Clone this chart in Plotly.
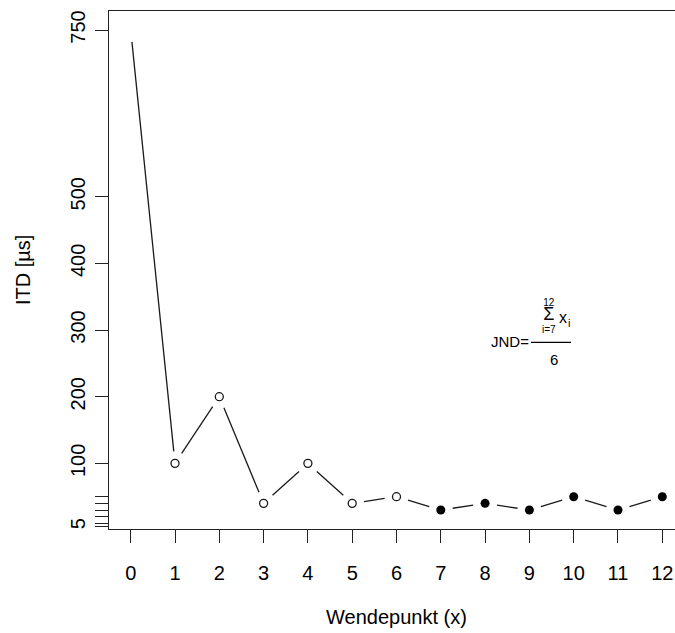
import math
import plotly.graph_objects as go

# ---- data ----
wendepunkt = list(range(13))
itd = [750, 100, 200, 40, 100, 40, 50, 30, 40, 30, 50, 30, 50]
open_points = [1, 2, 3, 4, 5, 6]
filled_points = [7, 8, 9, 10, 11, 12]
x_tickvals = list(range(13))
y_tickvals = [5, 10, 20, 30, 40, 50, 100, 200, 300, 400, 500, 750]
y_ticktext = ["5", "", "", "", "", "", "100", "200", "300", "400", "500", "750"]

# ---- layout geometry ----
W, H = 675, 633
ML, MR, MT, MB = 109, 0, 11, 104
PW, PH = W - ML - MR, H - MT - MB
xr = [-0.49, 12.287]
yr = [1.55, 778.5]
FONT = "Liberation Sans, Arial, sans-serif"

sx = PW / (xr[1] - xr[0])
sy = PH / (yr[1] - yr[0])

# line segments with gaps around points (R type="b")
gap = 12.0
lx, ly = [], []
for i in range(len(wendepunkt) - 1):
    x0, y0 = wendepunkt[i], itd[i]
    x1, y1 = wendepunkt[i + 1], itd[i + 1]
    L = math.hypot((x1 - x0) * sx, (y1 - y0) * sy)
    if L <= 2 * gap:
        continue
    t = gap / L
    lx += [x0 + (x1 - x0) * t, x1 - (x1 - x0) * t, None]
    ly += [y0 + (y1 - y0) * t, y1 - (y1 - y0) * t, None]

fig = go.Figure()
fig.add_trace(go.Scatter(x=lx, y=ly, mode="lines",
                         line=dict(color="#1a1a1a", width=1.3),
                         hoverinfo="skip", showlegend=False))
fig.add_trace(go.Scatter(x=[wendepunkt[i] for i in open_points],
                         y=[itd[i] for i in open_points], mode="markers",
                         marker=dict(symbol="circle-open", size=8,
                                     color="#1a1a1a", line=dict(width=1.3)),
                         showlegend=False))
fig.add_trace(go.Scatter(x=[wendepunkt[i] for i in filled_points],
                         y=[itd[i] for i in filled_points], mode="markers",
                         marker=dict(symbol="circle", size=9, color="black"),
                         showlegend=False))


def px(x):
    return (x - ML) / PW


def py(y):
    return (MT + PH - y) / PH


anns = []


def ann(text, x, y, size, angle=0):
    anns.append(dict(text=text, x=px(x), y=py(y), xref="paper", yref="paper",
                     showarrow=False, xanchor="center", yanchor="middle",
                     textangle=angle, font=dict(family=FONT, size=size, color="black")))


# axis titles
ann("Wendepunkt (x)", 396.5, 617, 20)
ann("ITD [µs]", 23, 270, 20, angle=-90)
# formula
ann("JND=", 509.5, 341, 15)
ann("6", 554, 359.7, 15)
ann('<span style="font-size:10px">12</span><br>'
    '<span style="font-size:18px">Σ</span><br>'
    '<span style="font-size:10px">i=7</span>', 548.8, 315.5, 10.4)
ann("x", 563, 317.3, 16)
ann("i", 569, 322.5, 11)

fig.update_layout(
    width=W, height=H,
    margin=dict(l=ML, r=MR, t=MT, b=MB, pad=0),
    paper_bgcolor="white", plot_bgcolor="white",
    font=dict(family=FONT, size=20, color="black"),
    annotations=anns,
    shapes=[dict(type="line", xref="paper", yref="paper",
                 x0=px(531), x1=px(571), y0=py(342.3), y1=py(342.3),
                 line=dict(color="black", width=1.2))],
    xaxis=dict(range=xr, tickvals=x_tickvals, showgrid=False, zeroline=False,
               showline=True, linecolor="#222", linewidth=1.2, mirror=True,
               ticks="outside", ticklen=13, tickwidth=1.2, tickcolor="#222",
               tickfont=dict(size=20), ticklabelstandoff=13),
    yaxis=dict(range=yr, tickvals=y_tickvals, ticktext=y_ticktext,
               showgrid=False, zeroline=False, showline=True, linecolor="#222",
               linewidth=1.2, ticks="outside", ticklen=13, tickwidth=1.2,
               tickcolor="#222", tickangle=-90, tickfont=dict(size=20),
               ticklabelstandoff=2),
)

fig.write_html("out.html")
